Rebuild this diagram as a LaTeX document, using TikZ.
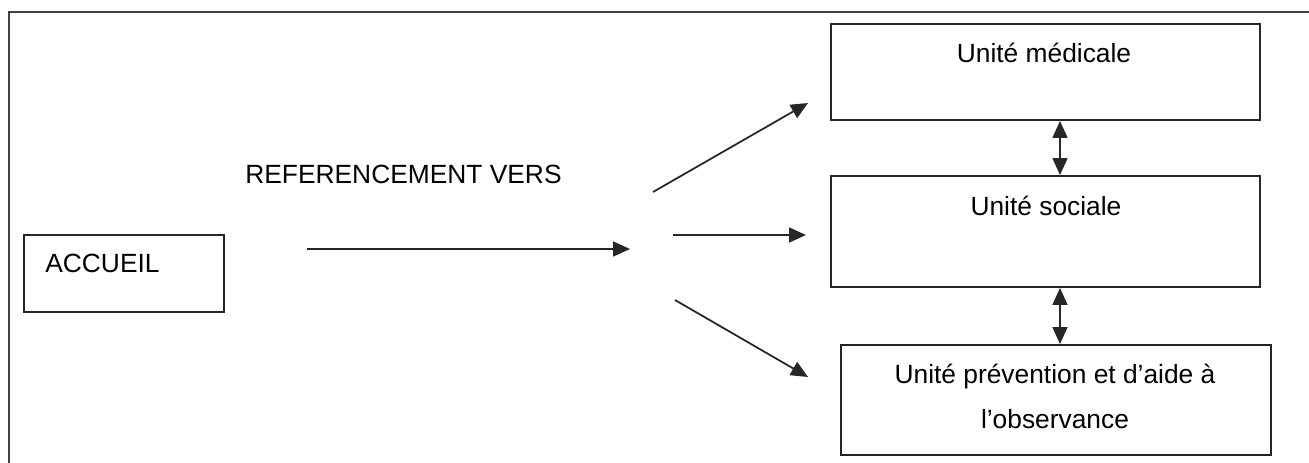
\documentclass[tikz,border=0pt]{standalone}
\usepackage{fontspec}
\setmainfont{Liberation Sans}
\usetikzlibrary{arrows.meta}
\tikzset{
  box/.style={draw=black!85, line width=1.1pt, inner sep=0pt},
  link/.style={black!85, line width=1pt, -{Triangle[length=0.34cm,width=0.3cm]}},
  dbl/.style={black!85, line width=1pt, {Triangle[length=0.34cm,width=0.3cm]}-{Triangle[length=0.34cm,width=0.3cm]}},
  lbl/.style={font=\fontsize{15}{25.5}\selectfont, inner sep=0pt}
}
\begin{document}
\begin{tikzpicture}[x=0.02cm,y=-0.02cm]
            \useasboundingbox (0,0) rectangle (1309,463);
            \draw[line width=1.2pt,black!75] (9,463) -- (9,12) -- (1309,12);
            \node[box, minimum width=4cm, minimum height=1.54cm] (accueil) at (124,273.5) {};
            \node[box, minimum width=8.58cm, minimum height=1.92cm] (med) at (1045.5,72) {};
            \node[box, minimum width=8.58cm, minimum height=2.22cm] (soc) at (1045.5,231.5) {};
            \node[box, minimum width=8.6cm, minimum height=2.2cm] (prev) at (1055.7,400) {};
            \node[lbl, anchor=base west] (accueiltxt) at (45,272) {ACCUEIL};
            \node[lbl, anchor=base west] (reftxt) at (245,183) {REFERENCEMENT VERS};
            \node[lbl, anchor=base] (medtxt) at (1044,62) {Unité médicale};
            \node[lbl, anchor=base] (soctxt) at (1046,215) {Unité sociale};
            \node[lbl, anchor=base, align=center] (prevtxt) at (1055,428) {Unité prévention et d’aide à\\l’observance};
            \coordinate (refstart) at (307,249);
            \coordinate (refend) at (630,249);
            \coordinate (upstart) at (653,192);
            \coordinate (upend) at (808,103);
            \coordinate (midstart) at (673,235);
            \coordinate (midend) at (806,235);
            \coordinate (downstart) at (675,300);
            \coordinate (downend) at (808,377);
            \draw[link] (refstart) -- (refend);
            \draw[link] (upstart) -- (upend);
            \draw[link] (midstart) -- (midend);
            \draw[link] (downstart) -- (downend);
            \draw[dbl] ([xshift=0.29cm]med.south) -- ([xshift=0.29cm]soc.north);
            \draw[dbl] ([xshift=0.29cm]soc.south) -- ([xshift=0.29cm]soc.south |- prev.north);
        \end{tikzpicture}
\end{document}
